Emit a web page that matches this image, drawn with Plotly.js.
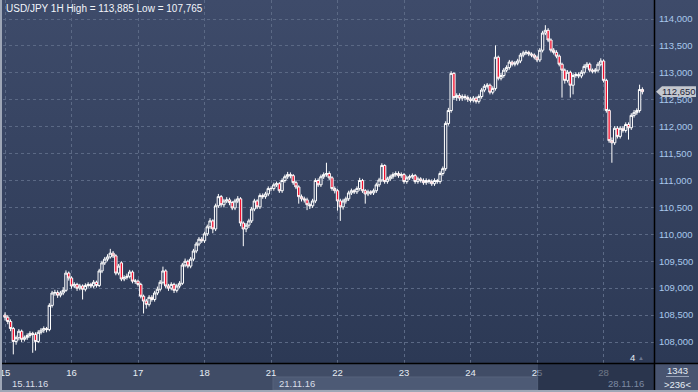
<!DOCTYPE html>
<html><head><meta charset="utf-8">
<script src="https://cdn.plot.ly/plotly-3.0.1.min.js"></script>
<style>
html,body{margin:0;padding:0;background:#404c66;}
#chart{width:698px;height:392px;background:linear-gradient(to bottom,#3e4b6a 0px,#2c3955 363px,#404c66 363px,#404c66 392px);}
</style></head><body>
<div id="chart"></div>
<script>
const days = ["15","16","17","18","21","22","23","24","25","28"];
const dayStart = [0,24,48,72,96,120,144,168,192,216];
const dateLabels = ["15.11.16","21.11.16","28.11.16"];
const priceTicks = [108,108.5,109,109.5,110,110.5,111,111.5,112,112.5,113,113.5,114];
const priceTickText = ["108,000","108,500","109,000","109,500","110,000","110,500","111,000","111,500","112,000","112,500","113,000","113,500","114,000"];
const lastPrice = 112.65;

const open = [108.50,108.46,108.38,108.25,108.01,108.08,108.20,108.05,108.08,108.12,108.16,108.14,108.01,108.18,108.22,108.25,108.23,108.68,108.91,108.92,108.87,108.91,108.96,109.28,
109.19,109.04,109.07,109.00,109.04,108.98,109.05,109.07,109.04,109.11,109.05,109.32,109.47,109.54,109.58,109.65,109.60,109.28,109.47,109.17,109.20,109.22,109.30,109.13,
109.13,109.07,108.85,108.76,108.70,108.83,108.79,108.91,108.98,109.11,109.32,109.04,109.00,109.07,108.96,109.04,109.09,109.43,109.50,109.41,109.54,109.69,109.82,109.91,
109.88,110.01,110.14,110.25,110.10,110.53,110.70,110.55,110.62,110.64,110.59,110.49,110.62,110.66,110.21,110.10,110.17,110.25,110.47,110.62,110.51,110.72,110.70,110.75,
110.85,110.85,110.92,110.94,110.81,111.00,111.07,111.11,111.09,110.96,110.88,110.70,110.66,110.64,110.55,110.53,110.62,111.00,110.92,111.07,111.11,111.13,111.05,110.85,
110.81,110.62,110.51,110.62,110.66,110.77,110.81,110.79,110.85,111.00,110.81,110.75,110.79,110.77,110.81,110.92,111.01,111.28,110.98,111.03,111.07,111.11,111.13,111.09,
111.11,110.98,111.05,111.07,111.09,110.98,111.03,111.00,110.96,111.00,110.98,110.94,111.00,110.98,111.13,111.22,112.06,112.30,112.99,112.54,112.58,112.53,112.56,112.54,
112.51,112.49,112.53,112.47,112.56,112.68,112.75,112.77,112.64,112.71,113.29,112.90,112.95,113.05,113.10,113.20,113.16,113.18,113.22,113.33,113.37,113.38,113.35,113.33,
113.29,113.24,113.42,113.74,113.79,113.61,113.42,113.38,113.31,113.16,113.05,112.86,113.01,112.77,112.95,112.97,112.94,113.01,113.12,113.16,113.05,113.03,113.05,113.16,
113.22,112.86,112.30,111.74,111.70,111.97,111.82,111.97,111.93,112.04,111.98,112.21,112.26,112.30,112.69];
const high = [108.55,108.50,108.42,108.28,108.12,108.24,108.23,108.12,108.16,108.20,108.19,108.18,108.22,108.26,108.29,108.28,108.72,108.95,108.97,108.96,108.95,109.02,109.33,109.31,
109.22,109.11,109.10,109.08,109.07,109.09,109.11,109.10,109.15,109.14,109.36,109.51,109.58,109.63,109.73,109.69,109.63,109.45,109.50,109.24,109.27,109.34,109.33,109.17,
109.16,109.10,108.88,108.80,108.87,108.87,108.95,109.03,109.15,109.40,109.35,109.08,109.11,109.10,109.08,109.13,109.47,109.55,109.53,109.58,109.73,109.86,109.95,109.95,
110.05,110.18,110.30,110.28,110.57,110.75,110.73,110.66,110.69,110.68,110.62,110.66,110.71,110.69,110.24,110.21,110.29,110.51,110.66,110.65,110.76,110.76,110.79,110.89,
110.89,110.96,110.98,110.97,111.04,111.11,111.16,111.15,111.12,111.00,110.91,110.74,110.70,110.68,110.59,110.66,111.04,111.04,111.11,111.15,111.33,111.17,111.08,110.89,
110.84,110.66,110.66,110.70,110.81,110.85,110.84,110.89,111.05,111.03,110.84,110.83,110.82,110.85,110.96,111.05,111.32,111.30,111.07,111.11,111.15,111.17,111.17,111.15,
111.14,111.09,111.11,111.13,111.12,111.07,111.06,111.04,111.04,111.03,111.02,111.04,111.03,111.17,111.26,112.10,112.35,113.03,113.01,112.62,112.62,112.60,112.60,112.58,
112.55,112.57,112.56,112.60,112.72,112.79,112.81,112.80,112.75,113.51,113.32,113.00,113.09,113.14,113.24,113.23,113.22,113.26,113.37,113.41,113.42,113.41,113.38,113.36,
113.32,113.46,113.78,113.885,113.83,113.64,113.46,113.42,113.34,113.19,113.08,113.05,113.04,112.99,113.01,113.01,113.05,113.16,113.20,113.19,113.08,113.09,113.20,113.27,
113.25,112.89,112.33,111.80,112.01,112.01,112.01,112.01,112.08,112.08,112.25,112.31,112.34,112.78,112.73];
const low = [108.40,108.33,108.20,107.77,107.95,108.03,108.00,108.01,108.04,108.08,107.80,107.84,107.98,108.14,108.17,108.18,108.20,108.64,108.86,108.82,108.83,108.87,108.93,109.14,
108.99,109.00,108.95,108.96,108.79,108.94,109.01,109.00,109.00,109.01,109.02,109.28,109.43,109.50,109.55,109.56,109.24,109.24,109.13,109.13,109.16,109.18,109.09,109.08,
109.03,108.81,108.53,108.62,108.66,108.75,108.75,108.87,108.94,109.07,109.00,108.95,108.96,108.91,108.92,109.00,109.06,109.39,109.37,109.37,109.50,109.65,109.78,109.84,
109.84,109.97,110.10,110.02,110.06,110.49,110.51,110.50,110.58,110.54,110.45,110.45,110.58,110.15,109.78,110.04,110.12,110.21,110.43,110.47,110.47,110.66,110.66,110.71,
110.80,110.81,110.88,110.77,110.77,110.96,111.03,111.04,110.92,110.84,110.57,110.61,110.59,110.45,110.47,110.49,110.58,110.88,110.88,111.03,111.07,111.01,110.81,110.76,
110.44,110.25,110.46,110.57,110.62,110.73,110.75,110.75,110.81,110.77,110.57,110.71,110.73,110.73,110.77,110.88,110.97,110.94,110.94,110.99,111.03,111.07,111.05,111.05,
110.94,110.94,111.01,111.03,110.94,110.94,110.96,110.92,110.92,110.94,110.90,110.90,110.94,110.94,111.09,111.18,112.02,112.26,112.50,112.48,112.48,112.48,112.49,112.46,
112.45,112.45,112.43,112.43,112.52,112.64,112.71,112.60,112.60,112.67,112.86,112.86,112.91,113.01,113.06,113.12,113.12,113.14,113.18,113.29,113.33,113.31,113.29,113.25,
113.20,113.20,113.38,113.70,113.57,113.38,113.34,113.27,113.12,112.54,112.80,112.82,112.54,112.60,112.91,112.90,112.90,112.97,113.08,113.01,112.99,112.99,113.01,113.12,
112.82,112.26,111.70,111.33,111.66,111.78,111.78,111.89,111.89,111.76,111.94,112.17,112.22,112.26,112.60];
const close = [108.46,108.38,108.25,108.01,108.08,108.20,108.05,108.08,108.12,108.16,108.14,108.01,108.18,108.22,108.25,108.23,108.68,108.91,108.92,108.87,108.91,108.96,109.28,109.19,
109.04,109.07,109.00,109.04,108.98,109.05,109.07,109.04,109.11,109.05,109.32,109.47,109.54,109.58,109.65,109.60,109.28,109.41,109.17,109.20,109.22,109.30,109.13,109.13,
109.07,108.85,108.76,108.70,108.83,108.79,108.91,108.98,109.11,109.32,109.04,109.00,109.07,108.96,109.04,109.09,109.43,109.50,109.41,109.54,109.69,109.82,109.91,109.88,
110.01,110.14,110.25,110.10,110.53,110.70,110.55,110.62,110.64,110.59,110.49,110.62,110.66,110.21,110.10,110.17,110.25,110.47,110.62,110.51,110.72,110.70,110.75,110.85,
110.85,110.92,110.94,110.81,111.00,111.07,111.11,111.09,110.96,110.88,110.70,110.66,110.64,110.55,110.53,110.62,111.00,110.92,111.07,111.11,111.13,111.05,110.85,110.81,
110.62,110.51,110.62,110.66,110.77,110.81,110.79,110.85,111.00,110.81,110.75,110.79,110.77,110.81,110.92,111.01,111.28,110.98,111.03,111.07,111.11,111.13,111.09,111.11,
110.98,111.05,111.07,111.09,110.98,111.03,111.00,110.96,111.00,110.98,110.94,111.00,110.98,111.13,111.22,112.06,112.30,112.99,112.54,112.58,112.53,112.56,112.54,112.51,
112.49,112.53,112.47,112.56,112.68,112.75,112.77,112.64,112.71,113.29,112.90,112.95,113.05,113.10,113.20,113.16,113.18,113.22,113.33,113.37,113.38,113.35,113.33,113.29,
113.24,113.42,113.74,113.79,113.61,113.42,113.38,113.31,113.16,113.05,112.86,113.01,112.77,112.95,112.97,112.94,113.01,113.12,113.16,113.05,113.03,113.05,113.16,113.22,
112.86,112.30,111.74,111.70,111.97,111.82,111.97,111.93,112.04,111.98,112.21,112.26,112.30,112.69,112.65];

const idx = close.map((_, i) => i);

// pixel helpers for decorations (plot area: x 3..654, y 0..363)
const PX = px => (px - 3) / 651;
const PY = py => (363 - py) / 363;

const font = "Liberation Sans, Arial, sans-serif";

const trace = {
  type: 'candlestick', x: idx, open: open, high: high, low: low, close: close,
  increasing: {line: {color: '#ffffff', width: 1}, fillcolor: '#33405e'},
  decreasing: {line: {color: '#ffffff', width: 1}, fillcolor: '#f0102e'},
  whiskerwidth: 0, hoverinfo: 'skip'
};

const yTop = 114 + 19 * (6 / 323), yBot = 108 - 21 * (6 / 323);

const layout = {
  width: 698, height: 392,
  margin: {l: 3, r: 44, t: 0, b: 29, pad: 0},
  paper_bgcolor: 'rgba(0,0,0,0)', plot_bgcolor: 'rgba(0,0,0,0)',
  showlegend: false, boxgap: 0.15, boxgroupgap: 0,
  xaxis: {
    range: [-0.72, 234.2], rangeslider: {visible: false},
    tickvals: dayStart, ticktext: days, ticks: '', showline: false, zeroline: false,
    showgrid: true, gridcolor: '#5b6985', griddash: 'dot', gridwidth: 1,
    tickfont: {family: font, size: 9.5, color: '#e6ecf4'}, ticklabelstandoff: 2,
    ticklabeloverflow: 'allow'
  },
  yaxis: {
    range: [yBot, yTop], side: 'right', tickvals: priceTicks, ticktext: priceTickText,
    ticks: '', showline: false, zeroline: false,
    showgrid: true, gridcolor: '#5b6985', griddash: 'dot', gridwidth: 1,
    tickfont: {family: font, size: 9.5, color: '#a9c8ec'}, ticklabelstandoff: 4
  },
  shapes: [
    {type: 'rect', xref: 'paper', yref: 'paper', x0: PX(273), x1: PX(538), y0: PY(390), y1: PY(377), fillcolor: '#4d5a75', line: {width: 1, color: '#56627c'}, layer: 'below'},
    {type: 'rect', xref: 'paper', yref: 'paper', x0: PX(655), x1: PX(698), y0: PY(390), y1: PY(364), fillcolor: '#485470', line: {width: 0}, layer: 'below'},
    {type: 'rect', xref: 'paper', yref: 'paper', x0: PX(538), x1: PX(654.5), y0: PY(390), y1: PY(364), fillcolor: 'rgba(28,38,60,0.6)', line: {width: 0}, layer: 'above'},
    {type: 'line', xref: 'paper', yref: 'paper', x0: PX(0), x1: PX(698), y0: PY(363.5), y1: PY(363.5), line: {color: '#000000', width: 1.5}},
    {type: 'line', xref: 'paper', yref: 'paper', x0: PX(654.5), x1: PX(654.5), y0: PY(0), y1: PY(392), line: {color: '#000000', width: 1.5}},
    {type: 'rect', xref: 'paper', yref: 'paper', x0: PX(0), x1: PX(2), y0: PY(392), y1: PY(0), fillcolor: '#9ea6b6', line: {width: 0}},
    {type: 'rect', xref: 'paper', yref: 'paper', x0: PX(0), x1: PX(698), y0: PY(392), y1: PY(390), fillcolor: '#9ea6b6', line: {width: 0}},
    {type: 'line', xref: 'paper', yref: 'paper', x0: PX(666), x1: PX(689), y0: PY(376.5), y1: PY(376.5), line: {color: '#9aa4b8', width: 1}},
    {type: 'path', xref: 'paper', yref: 'y',
     path: `M ${PX(656)} ${lastPrice} L ${PX(662)} ${lastPrice + 0.1} L ${PX(696)} ${lastPrice + 0.1} L ${PX(696)} ${lastPrice - 0.1} L ${PX(662)} ${lastPrice - 0.1} Z`,
     fillcolor: '#c4c8cf', line: {width: 0}}
  ],
  annotations: [
    {xref: 'paper', yref: 'paper', x: PX(4), y: PY(8), xanchor: 'left', yanchor: 'middle', showarrow: false,
     text: 'USD/JPY 1H High = 113,885 Low = 107,765', font: {family: font, size: 10, color: '#f2f5fa'}},
    {xref: 'paper', yref: 'paper', x: PX(10), y: PY(383), xanchor: 'left', yanchor: 'middle', showarrow: false,
     text: dateLabels[0], font: {family: font, size: 9.5, color: '#d8dee8'}},
    {xref: 'paper', yref: 'paper', x: PX(277), y: PY(383), xanchor: 'left', yanchor: 'middle', showarrow: false,
     text: dateLabels[1], font: {family: font, size: 9.5, color: '#d8dee8'}},
    {xref: 'paper', yref: 'paper', x: PX(606), y: PY(383), xanchor: 'left', yanchor: 'middle', showarrow: false,
     text: dateLabels[2], font: {family: font, size: 9.5, color: '#7d8aa3'}},
    {xref: 'paper', yref: 'paper', x: PX(677), y: PY(370), xanchor: 'center', yanchor: 'middle', showarrow: false,
     text: '1343', font: {family: font, size: 9.5, color: '#e6ecf4'}},
    {xref: 'paper', yref: 'paper', x: PX(677), y: PY(384), xanchor: 'center', yanchor: 'middle', showarrow: false,
     text: '&gt;236&lt;', font: {family: font, size: 9.5, color: '#e6ecf4'}},
    {xref: 'paper', yref: 'paper', x: PX(632), y: PY(357), xanchor: 'center', yanchor: 'middle', showarrow: false,
     text: '4', font: {family: font, size: 9.5, color: '#e6ecf4'}},
    {xref: 'paper', yref: 'paper', x: PX(641), y: PY(358), xanchor: 'center', yanchor: 'middle', showarrow: false,
     text: '▲', font: {family: font, size: 6, color: '#6b7791'}},
    {xref: 'paper', yref: 'y', x: PX(679), y: lastPrice, xanchor: 'center', yanchor: 'middle', showarrow: false,
     text: '112,650', font: {family: font, size: 9.5, color: '#1c2438'}}
  ]
};

Plotly.newPlot('chart', [trace], layout, {displayModeBar: false, staticPlot: true});
</script>
</body></html>
